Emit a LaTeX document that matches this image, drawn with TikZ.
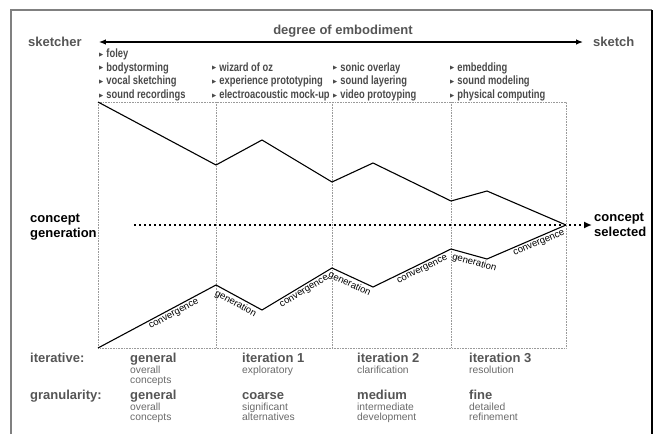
\documentclass[tikz,border=0pt]{standalone}
\usepackage{fontspec}
\setmainfont{Liberation Sans}
\newfontfamily\condfont[FakeStretch=0.78]{Liberation Sans}
\newfontfamily\symfont{DejaVu Sans}
\usepackage{xcolor}
\usetikzlibrary{arrows.meta, positioning}

\definecolor{headgray}{HTML}{555555}
\definecolor{itemgray}{HTML}{4A4A4A}
\definecolor{descgray}{HTML}{6A6A6A}
\definecolor{gridgray}{HTML}{9A9A9A}
\definecolor{framegray}{HTML}{808080}

\newcommand{\itm}[1]{\raisebox{1.2pt}{\symfont\fontsize{5.5}{5.5}\selectfont ▶}\hspace{3pt}#1}

\begin{document}
\begin{tikzpicture}[
    x=1pt, y=-1pt,
    every node/.style={inner sep=0pt, align=left},
    head/.style={font=\bfseries\fontsize{13}{16}\selectfont, text=headgray},
    bold/.style={font=\bfseries\fontsize{13}{15.5}\selectfont},
    items/.style={font=\condfont\bfseries\fontsize{12}{13.6}\selectfont, text=itemgray, anchor=north west},
    desc/.style={font=\fontsize{10.3}{10.3}\selectfont, text=descgray, anchor=north west},
    phase/.style={font=\fontsize{9.6}{9.6}\selectfont, sloped, below, inner sep=2.2pt},
    zigzag/.style={line width=1.1pt},
    grid/.style={gridgray, densely dotted, line width=0.6pt}
]
\useasboundingbox (0,0) rectangle (656,434);

% frame
\draw[framegray, line width=1.2pt] (11,434) -- (11,10) -- (652,10);
\draw[line width=1.2pt] (652,10) -- (652,434);

% degree of embodiment
\node[head, anchor=west] (sketcher) at (28,42) {sketcher};
\node[head, anchor=west] (sketch) at (593,42) {sketch};
\node[head] (embodiment) at (343,31) {degree of embodiment};
\draw[{Latex[length=7pt,width=5.5pt]}-{Latex[length=7pt,width=5.5pt]}, line width=1.2pt]
    ([xshift=17pt]sketcher.east) -- ([xshift=-10pt]sketch.west);

% techniques
\node[items] (tech1) at (99,48.6) {\itm{foley}\\\itm{bodystorming}\\\itm{vocal sketching}\\\itm{sound recordings}};
\node[items] (tech2) at (212,62.2) {\itm{wizard of oz}\\\itm{experience prototyping}\\\itm{electroacoustic mock-up}};
\node[items] (tech3) at (333,62.2) {\itm{sonic overlay}\\\itm{sound layering}\\\itm{video protoyping}};
\node[items] (tech4) at (450,62.2) {\itm{embedding}\\\itm{sound modeling}\\\itm{physical computing}};

% iteration grid
\draw[grid] (98,102) rectangle (566,348);
\draw[grid] (216,102) -- (216,348);
\draw[grid] (332,102) -- (332,348);
\draw[grid] (451,102) -- (451,348);

% generation / convergence
\coordinate (u0) at (98,102);
\coordinate (u1) at (216,165);
\coordinate (u2) at (262,140);
\coordinate (u3) at (332,182);
\coordinate (u4) at (373,163);
\coordinate (u5) at (451,201);
\coordinate (u6) at (487,191);
\coordinate (l0) at (98,348);
\coordinate (l1) at (216,285);
\coordinate (l2) at (262,310);
\coordinate (l3) at (332,268);
\coordinate (l4) at (373,287);
\coordinate (l5) at (451,249);
\coordinate (l6) at (487,259);
\coordinate (sel) at (566,225);
\coordinate (start) at (134,225);

\draw[zigzag] (u0) -- (u1) -- (u2) -- (u3) -- (u4) -- (u5) -- (u6) -- (sel);
\draw[zigzag] (l0) -- node[phase, pos=0.62] (c1) {convergence}
    (l1) -- node[phase] (g1) {generation}
    (l2) -- node[phase, pos=0.56] (c2) {convergence}
    (l3) -- node[phase] (g2) {generation}
    (l4) -- node[phase, pos=0.6] (c3) {convergence}
    (l5) -- node[phase, pos=0.7] (g3) {generation}
    (l6) -- node[phase, pos=0.63] (c4) {convergence} (sel);

\node[bold, anchor=west] (generation) at (30,227) {concept\\generation};
\node[bold, anchor=west] (selected) at (594,225) {concept\\selected};
\draw[line width=1.6pt, dash pattern=on 1.6pt off 3.4pt,
    -{Latex[length=8pt,width=7pt]}] (start) -- ([xshift=-2pt]selected.west);

% iterations
\node[head, anchor=base west] (iterative) at (30,362.4) {iterative:};
\node[head, anchor=base west] (granularity) at (30,399.4) {granularity:};

\node[head, anchor=base west] (it0) at (130,362.4) {general};
\node[head, anchor=base west] (it1) at (242,362.4) {iteration 1};
\node[head, anchor=base west] (it2) at (357,362.4) {iteration 2};
\node[head, anchor=base west] (it3) at (469,362.4) {iteration 3};
\node[desc, below=3.5pt of it0.base west, anchor=north west] (it0d) {overall\\concepts};
\node[desc, below=3.5pt of it1.base west, anchor=north west] (it1d) {exploratory};
\node[desc, below=3.5pt of it2.base west, anchor=north west] (it2d) {clarification};
\node[desc, below=3.5pt of it3.base west, anchor=north west] (it3d) {resolution};

\node[head, anchor=base west] (gr0) at (130,399.4) {general};
\node[head, anchor=base west] (gr1) at (242,399.4) {coarse};
\node[head, anchor=base west] (gr2) at (357,399.4) {medium};
\node[head, anchor=base west] (gr3) at (469,399.4) {fine};
\node[desc, below=3.5pt of gr0.base west, anchor=north west] (gr0d) {overall\\concepts};
\node[desc, below=3.5pt of gr1.base west, anchor=north west] (gr1d) {significant\\alternatives};
\node[desc, below=3.5pt of gr2.base west, anchor=north west] (gr2d) {intermediate\\development};
\node[desc, below=3.5pt of gr3.base west, anchor=north west] (gr3d) {detailed\\refinement};

\end{tikzpicture}
\end{document}
